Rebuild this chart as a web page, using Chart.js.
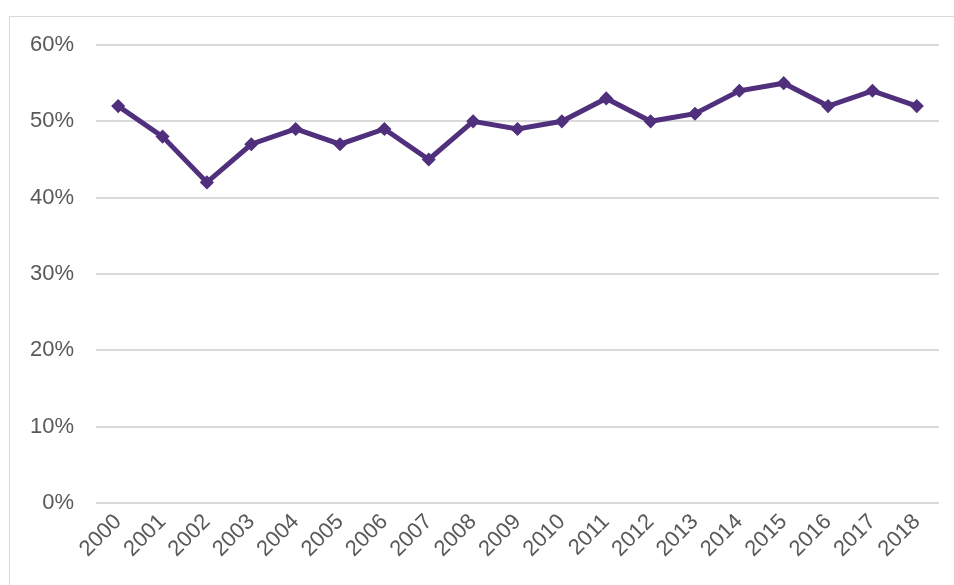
<!DOCTYPE html>
<html>
<head>
<meta charset="utf-8">
<script src="https://cdn.jsdelivr.net/npm/chart.js@4/dist/chart.umd.min.js"></script>
<style>
    html, body { margin: 0; padding: 0; background: #fff; overflow: hidden; }
    #wrap { position: relative; width: 954px; height: 585px; }
    #frame { position: absolute; left: 9px; top: 16px; width: 960px; height: 600px; border: 1px solid #d9d9d9; box-sizing: border-box; }
    #chart { position: absolute; left: 0; top: 0; }
</style>
</head>
<body>
<div id="wrap">
    <div id="frame"></div>
    <canvas id="chart" width="954" height="585"></canvas>
</div>
<script>
// Dữ liệu của biểu đồ
const years = ['2000', '2001', '2002', '2003', '2004', '2005', '2006', '2007', '2008', '2009',
    '2010', '2011', '2012', '2013', '2014', '2015', '2016', '2017', '2018'];
const shareValues = [52, 48, 42, 47, 49, 47, 49, 45, 50, 49, 50, 53, 50, 51, 54, 55, 52, 54, 52];
const yTicks = [0, 10, 20, 30, 40, 50, 60];

const lineColor = '#50307d';
const textColor = '#595959';
const gridColor = '#d9d9d9';
const font = { family: '"Liberation Sans", Arial, sans-serif', size: 22 };

new Chart(document.getElementById('chart').getContext('2d'), {
    type: 'line',
    data: {
        labels: years,
        datasets: [{
            data: shareValues,
            borderColor: lineColor,
            backgroundColor: lineColor,
            borderWidth: 5,
            tension: 0,
            pointStyle: 'rectRot',
            pointRadius: 6,
            pointBorderWidth: 1.5,
            pointHoverRadius: 6,
        }]
    },
    options: {
        responsive: false,
        animation: false,
        layout: { padding: { left: 0, right: 15, top: 45, bottom: 0 } },
        plugins: { legend: { display: false }, tooltip: { enabled: false } },
        scales: {
            x: {
                offset: true,
                grid: { display: false, drawTicks: false },
                border: { display: false },
                ticks: { color: textColor, font, minRotation: 45, maxRotation: 45, padding: 6, autoSkip: false },
                afterFit: (scale) => { scale.height = 82; }
            },
            y: {
                min: 0,
                max: 60,
                afterBuildTicks: (scale) => { scale.ticks = yTicks.map(v => ({ value: v })); },
                grid: { color: gridColor, lineWidth: 2, drawTicks: false },
                border: { display: false },
                ticks: { color: textColor, font, padding: 22, callback: (v) => v + '%' },
                afterFit: (scale) => { scale.width = 96; }
            }
        }
    }
});
</script>
</body>
</html>
